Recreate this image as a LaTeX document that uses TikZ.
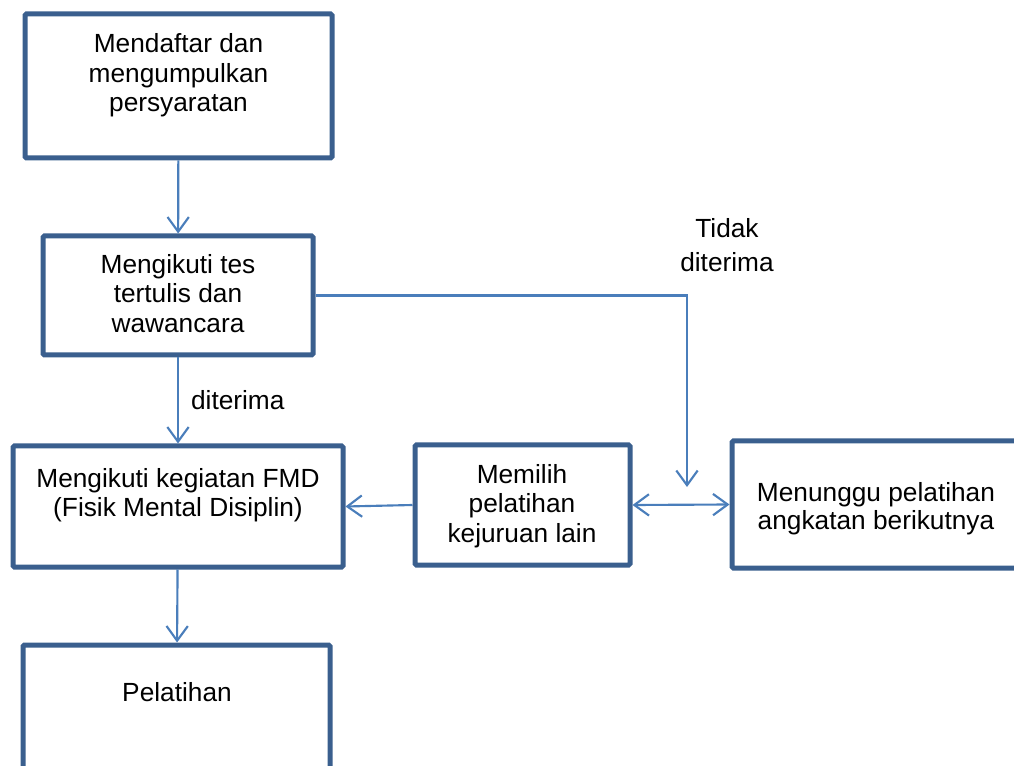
\documentclass[tikz,border=0pt]{standalone}
\usepackage{fontspec}
\setmainfont{Liberation Sans}
\usetikzlibrary{arrows.meta, positioning, fit}

\definecolor{boxline}{HTML}{3A5F8E}
\definecolor{arrline}{HTML}{4A7EBB}

\begin{document}
\begin{tikzpicture}[
    x=0.75pt, y=-0.75pt,
    >={Straight Barb[length=11pt, width=16pt]},
    box/.style={draw=boxline, line width=3.75pt, rounded corners=1pt, inner sep=0pt},
    txt/.style={align=center, inner sep=0pt, font=\fontsize{19.7}{22.1}\selectfont},
    arr/.style={->, draw=arrline, line width=1.6pt}
]
    \useasboundingbox (0,0) rectangle (1014,766);
    \clip (0,0) rectangle (1014,766);

    % Boxes
    \node[box, fit={(25,14) (332,158)}] (reg) {};
    \node[box, fit={(43,236) (313,355)}] (tes) {};
    \node[box, fit={(13,446) (343,567)}] (fmd) {};
    \node[box, fit={(415,445) (630,565)}] (pilih) {};
    \node[box, fit={(732,441) (1022,568)}] (tunggu) {};
    \node[box, fit={(23,645) (330,800)}] (latih) {};

    % Texts
    \node[txt] (reg-txt) at (178.5,75.5) {Mendaftar dan\\ mengumpulkan\\ persyaratan};
    \node[txt] (tes-txt) at (178,293.5) {Mengikuti tes\\ tertulis dan\\ wawancara};
    \node[txt] (fmd-txt) at (178,495) {Mengikuti kegiatan FMD\\ (Fisik Mental Disiplin)};
    \node[txt] (pilih-txt) at (522,506) {Memilih\\ pelatihan\\ kejuruan lain};
    \node[txt, font=\fontsize{19.7}{21}\selectfont] (tunggu-txt) at (876,508.5) {Menunggu pelatihan\\ angkatan berikutnya};
    \node[txt] (latih-txt) at (177,692.5) {Pelatihan};
    \node[txt, font=\fontsize{19.7}{25.5}\selectfont] (tolak) at (727,245.5) {Tidak\\ diterima};

    % Arrows
    \coordinate (drop) at (687,487);
    \draw[arr] (reg) -- (tes);
    \draw[arr] (tes) -- node[txt, right=9pt] (terima) {diterima} (fmd);
    \draw[arr] (tes.east) -| (drop);
    \draw[arr] (fmd) -- (latih);
    \draw[arr] (pilih.west) -- (fmd.east);
    \draw[arr, <->] (pilih.east) -- (tunggu.west);
\end{tikzpicture}
\end{document}
